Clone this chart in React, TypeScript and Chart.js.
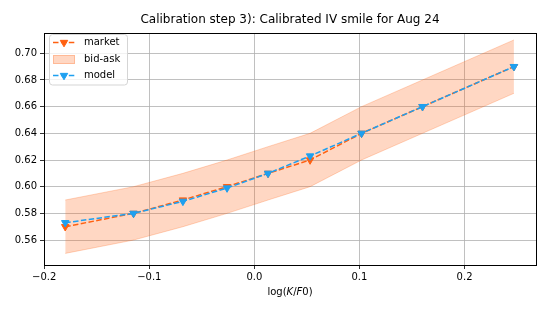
import React, { useEffect, useRef } from "react";
import { Chart, registerables } from "chart.js";

Chart.register(...registerables);

const logMoneyness = [-0.18, -0.115, -0.068, -0.026, 0.013, 0.053, 0.102, 0.16, 0.247];
const marketIV = [0.57, 0.58, 0.59, 0.6, 0.61, 0.62, 0.64, 0.66, 0.69];
const bidIV = [0.55, 0.56, 0.57, 0.58, 0.59, 0.6, 0.62, 0.64, 0.67];
const askIV = [0.59, 0.6, 0.61, 0.62, 0.63, 0.64, 0.66, 0.68, 0.71];
const modelIV = [0.573, 0.58, 0.589, 0.599, 0.61, 0.623, 0.64, 0.66, 0.69];
const xTicks = [-0.2, -0.1, 0.0, 0.1, 0.2];
const yTicks = [0.56, 0.58, 0.6, 0.62, 0.64, 0.66, 0.68, 0.7];
const titleText = "Calibration step 3): Calibrated IV smile for Aug 24";

const ORANGE = "#ff6010";
const BLUE = "#1ea0f0";
const FILL = "rgba(255,96,16,0.25)";
const FONT = "'DejaVu Sans', sans-serif";

const pts = (ys: number[]) => logMoneyness.map((x, i) => ({ x, y: ys[i] }));

function drawTri(ctx: CanvasRenderingContext2D, x: number, y: number, r: number, color: string) {
  ctx.save();
  ctx.fillStyle = color;
  ctx.strokeStyle = color;
  ctx.lineWidth = 1;
  ctx.beginPath();
  ctx.moveTo(x, y + r);
  ctx.lineTo(x - r * 0.866, y - r * 0.5);
  ctx.lineTo(x + r * 0.866, y - r * 0.5);
  ctx.closePath();
  ctx.fill();
  ctx.stroke();
  ctx.restore();
}

const decorPlugin = {
  id: "decor",
  afterDraw(chart: any) {
    const ctx: CanvasRenderingContext2D = chart.ctx;
    const a = chart.chartArea;
    ctx.save();
    // spines
    ctx.strokeStyle = "#000";
    ctx.lineWidth = 1;
    ctx.strokeRect(Math.round(a.left) + 0.5, Math.round(a.top) + 0.5, Math.round(a.right - a.left), Math.round(a.bottom - a.top));
    // title
    ctx.fillStyle = "#000";
    ctx.font = `12px ${FONT}`;
    ctx.textAlign = "center";
    ctx.textBaseline = "alphabetic";
    ctx.fillText(titleText, (a.left + a.right) / 2, 23);
    // x label: log(K/F0) with italics
    const parts: [string, boolean][] = [["log(", false], ["K", true], ["/", false], ["F", true], ["0)", false]];
    let total = 0;
    for (const [t, it] of parts) {
      ctx.font = `${it ? "italic " : ""}10px ${FONT}`;
      total += ctx.measureText(t).width;
    }
    let x = (a.left + a.right) / 2 - total / 2;
    ctx.textAlign = "left";
    for (const [t, it] of parts) {
      ctx.font = `${it ? "italic " : ""}10px ${FONT}`;
      ctx.fillText(t, x, 295);
      x += ctx.measureText(t).width;
    }
    // legend
    const lx = 49, ly = 34.5, lw = 78, lh = 50.5;
    ctx.beginPath();
    (ctx as any).roundRect(lx + 0.5, ly, lw, lh, 3);
    ctx.fillStyle = "rgba(255,255,255,0.8)";
    ctx.fill();
    ctx.strokeStyle = "#d5d5d5";
    ctx.lineWidth = 1;
    ctx.stroke();
    const rows = [42.5, 59, 75.5];
    const drawLineEntry = (y: number, color: string) => {
      ctx.save();
      ctx.strokeStyle = color;
      ctx.lineWidth = 1.5;
      ctx.setLineDash([5.5, 2.4]);
      ctx.beginPath();
      ctx.moveTo(53, y);
      ctx.lineTo(75, y);
      ctx.stroke();
      ctx.restore();
      drawTri(ctx, 64, y, 4.3, color);
    };
    drawLineEntry(rows[0], ORANGE);
    ctx.fillStyle = FILL;
    ctx.fillRect(53, 55, 22, 9);
    ctx.strokeStyle = FILL;
    ctx.strokeRect(53.5, 55.5, 21, 8);
    drawLineEntry(rows[2], BLUE);
    ctx.fillStyle = "#000";
    ctx.font = `10px ${FONT}`;
    ctx.textAlign = "left";
    ctx.textBaseline = "middle";
    ctx.fillText("market", 84, rows[0]);
    ctx.fillText("bid-ask", 84, rows[1]);
    ctx.fillText("model", 84, rows[2]);
    ctx.restore();
  },
};

export default function App() {
  const ref = useRef<HTMLCanvasElement>(null);
  useEffect(() => {
    if (!ref.current) return;
    const chart = new Chart(ref.current, {
      type: "line",
      data: {
        datasets: [
          {
            label: "market",
            data: pts(marketIV),
            borderColor: ORANGE,
            backgroundColor: ORANGE,
            borderWidth: 1.5,
            borderDash: [5.5, 2.4],
            pointStyle: "triangle",
            rotation: 180,
            pointRadius: 4.3,
            pointBorderWidth: 1,
            pointBorderColor: ORANGE,
            pointBackgroundColor: ORANGE,
            fill: false,
            order: 3,
          },
          {
            label: "ask",
            data: pts(askIV),
            borderColor: FILL,
            backgroundColor: FILL,
            borderWidth: 1,
            pointRadius: 0,
            fill: "+1",
            order: 2,
          },
          {
            label: "bid",
            data: pts(bidIV),
            borderColor: FILL,
            backgroundColor: FILL,
            borderWidth: 1,
            pointRadius: 0,
            fill: false,
            order: 2,
          },
          {
            label: "model",
            data: pts(modelIV),
            borderColor: BLUE,
            backgroundColor: BLUE,
            borderWidth: 1.5,
            borderDash: [5.5, 2.4],
            pointStyle: "triangle",
            rotation: 180,
            pointRadius: 4.3,
            pointBorderWidth: 1,
            pointBorderColor: BLUE,
            pointBackgroundColor: BLUE,
            fill: false,
            order: 0,
          },
        ],
      },
      options: {
        animation: false,
        responsive: false,
        devicePixelRatio: 1,
        layout: { padding: { top: 33, right: 12, left: 0, bottom: 0 } },
        plugins: {
          legend: { display: false },
          title: { display: false },
          tooltip: { enabled: false },
        },
        scales: {
          x: {
            type: "linear",
            min: -0.2002,
            max: 0.268,
            afterBuildTicks: (s: any) => {
              s.ticks = xTicks.map((v) => ({ value: v }));
            },
            afterFit: (s: any) => {
              s.height = 48;
            },
            ticks: {
              font: { family: FONT, size: 10 },
              color: "#000",
              padding: 2,
              maxRotation: 0,
              callback: (v: any) => (Number(v) < -1e-9 ? "\u2212" : "") + Math.abs(Number(v)).toFixed(1),
            },
            grid: { color: "#b0b0b0", lineWidth: 0.8, tickColor: "#000", tickLength: 4, drawTicks: true },
            border: { display: true, color: "#000", width: 1 },
          },
          y: {
            type: "linear",
            min: 0.5413,
            max: 0.7152,
            afterBuildTicks: (s: any) => {
              s.ticks = yTicks.map((v) => ({ value: v }));
            },
            afterFit: (s: any) => {
              s.width = 44;
            },
            ticks: {
              font: { family: FONT, size: 10 },
              color: "#000",
              padding: 3,
              callback: (v: any) => Number(v).toFixed(2),
            },
            grid: { color: "#b0b0b0", lineWidth: 0.8, tickColor: "#000", tickLength: 4, drawTicks: true },
            border: { display: true, color: "#000", width: 1 },
          },
        },
      },
      plugins: [decorPlugin],
    });
    return () => chart.destroy();
  }, []);
  return (
    <div style={{ position: "absolute", left: 0, top: 0, width: 548, height: 313, background: "#fff" }}>
      <canvas ref={ref} width={548} height={313} style={{ width: 548, height: 313 }} />
    </div>
  );
}
